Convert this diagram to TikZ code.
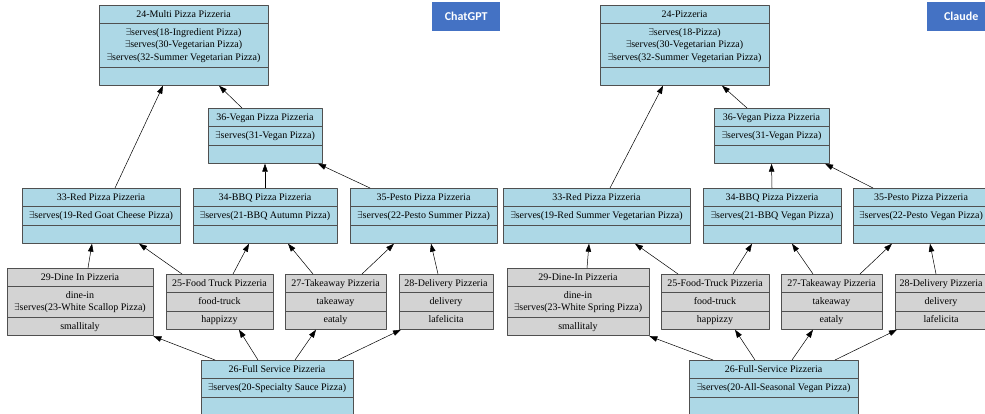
\documentclass[tikz,border=0pt]{standalone}
\usepackage{fontspec}
\setmainfont{Liberation Serif}
\newfontfamily\tagfont{Carlito}
\usetikzlibrary{shapes.multipart,arrows.meta}
\definecolor{boxblue}{HTML}{ADD8E6}
\definecolor{boxgray}{HTML}{D3D3D3}
\definecolor{tagblue}{HTML}{4472C4}
\definecolor{edgegray}{HTML}{505050}
\newcommand{\exserves}{\strut$\exists$serves}
\tikzset{
  klass/.style={rectangle split, rectangle split parts=3, draw=edgegray, line width=0.8pt,
    align=center, inner xsep=3pt, inner ysep=2.5pt, anchor=north,
    font=\fontsize{10}{12.5}\selectfont},
  bluebox/.style={klass, fill=boxblue},
  graybox/.style={klass, fill=boxgray},
  tag/.style={fill=tagblue, text=white, inner sep=0pt, minimum width=68pt, minimum height=29pt,
    anchor=north west, font=\tagfont\bfseries\fontsize{12}{14}\selectfont},
  isa/.style={->, line width=0.5pt}
}
\begin{document}
\begin{tikzpicture}[x=1pt,y=-1pt,>={Triangle[length=8pt,width=5.5pt]},line join=round]
  \clip (0,0) rectangle (985,414);
  % ChatGPT
  \node[tag] (tl) at (432,2) {ChatGPT};
  \node[bluebox, minimum width=169pt] (l24) at (183.5,5) {\strut 24-Multi Pizza Pizzeria
    \nodepart{two} \exserves(18-Ingredient Pizza)\\ \exserves(30-Vegetarian Pizza)\\ \exserves(32-Summer Vegetarian Pizza)
    \nodepart{three} \strut};
  \node[bluebox, minimum width=114pt] (l36) at (265,108) {\strut 36-Vegan Pizza Pizzeria
    \nodepart{two} \exserves(31-Vegan Pizza) \nodepart{three} \strut};
  \node[bluebox, minimum width=158pt] (l33) at (101,188) {\strut 33-Red Pizza Pizzeria
    \nodepart{two} \exserves(19-Red Goat Cheese Pizza) \nodepart{three} \strut};
  \node[bluebox, minimum width=144pt] (l34) at (265,188) {\strut 34-BBQ Pizza Pizzeria
    \nodepart{two} \exserves(21-BBQ Autumn Pizza) \nodepart{three} \strut};
  \node[bluebox, minimum width=147pt] (l35) at (423.5,188) {\strut 35-Pesto Pizza Pizzeria
    \nodepart{two} \exserves(22-Pesto Summer Pizza) \nodepart{three} \strut};
  \node[graybox, minimum width=146pt] (l29) at (80,268) {\strut 29-Dine In Pizzeria
    \nodepart{two} \strut dine-in\\ \exserves(23-White Scallop Pizza) \nodepart{three} \strut smallitaly};
  \node[graybox, minimum width=107pt] (l25) at (219.5,274) {\strut 25-Food Truck Pizzeria
    \nodepart{two} \strut food-truck \nodepart{three} \strut happizzy};
  \node[graybox, minimum width=101pt] (l27) at (335.5,274) {\strut 27-Takeaway Pizzeria
    \nodepart{two} \strut takeaway \nodepart{three} \strut eataly};
  \node[graybox, minimum width=94pt] (l28) at (446,274) {\strut 28-Delivery Pizzeria
    \nodepart{two} \strut delivery \nodepart{three} \strut lafelicita};
  \node[bluebox, minimum width=152pt] (l26) at (277,360) {\strut 26-Full Service Pizzeria
    \nodepart{two} \exserves(20-Specialty Sauce Pizza) \nodepart{three} \strut};
  \draw[isa] ([xshift=14pt]l33.north) -- ([xshift=-20.5pt]l24.south);
  \draw[isa] ([xshift=-23pt]l36.north) -- ([xshift=35.5pt]l24.south);
  \draw[isa] (l34.north) -- (l36.south);
  \draw[isa] ([xshift=-53.5pt]l35.north) -- ([xshift=53pt]l36.south);
  \draw[isa] ([xshift=8pt]l29.north) -- ([xshift=-9pt]l33.south);
  \draw[isa] ([xshift=-37.5pt]l25.north) -- ([xshift=38pt]l33.south);
  \draw[isa] ([xshift=13.5pt]l25.north) -- ([xshift=-16pt]l34.south);
  \draw[isa] ([xshift=-22.5pt]l27.north) -- ([xshift=23pt]l34.south);
  \draw[isa] ([xshift=26.5pt]l27.north) -- ([xshift=-29.5pt]l35.south);
  \draw[isa] ([xshift=-8pt]l28.north) -- ([xshift=7.5pt]l35.south);
  \draw[isa] ([xshift=-62pt]l26.north) -- (l29.south east);
  \draw[isa] ([xshift=-19pt]l26.north) -- ([xshift=19.5pt]l25.south);
  \draw[isa] ([xshift=18pt]l26.north) -- ([xshift=-19.5pt]l27.south);
  \draw[isa] ([xshift=61pt]l26.north) -- ([xshift=-45pt]l28.south);
  % Claude
  \node[tag] (tr) at (927,2) {Claude};
  \node[bluebox, minimum width=169pt] (r24) at (684.5,5) {\strut 24-Pizzeria
    \nodepart{two} \exserves(18-Pizza)\\ \exserves(30-Vegetarian Pizza)\\ \exserves(32-Summer Vegetarian Pizza)
    \nodepart{three} \strut};
  \node[bluebox, minimum width=115pt] (r36) at (771.5,108) {\strut 36-Vegan Pizza Pizzeria
    \nodepart{two} \exserves(31-Vegan Pizza) \nodepart{three} \strut};
  \node[bluebox, minimum width=187pt] (r33) at (596.5,188) {\strut 33-Red Pizza Pizzeria
    \nodepart{two} \exserves(19-Red Summer Vegetarian Pizza) \nodepart{three} \strut};
  \node[bluebox, minimum width=138pt] (r34) at (772,188) {\strut 34-BBQ Pizza Pizzeria
    \nodepart{two} \exserves(21-BBQ Vegan Pizza) \nodepart{three} \strut};
  \node[bluebox, minimum width=136pt] (r35) at (921,188) {\strut 35-Pesto Pizza Pizzeria
    \nodepart{two} \exserves(22-Pesto Vegan Pizza) \nodepart{three} \strut};
  \node[graybox, minimum width=142pt] (r29) at (578,268) {\strut 29-Dine-In Pizzeria
    \nodepart{two} \strut dine-in\\ \exserves(23-White Spring Pizza) \nodepart{three} \strut smallitaly};
  \node[graybox, minimum width=108pt] (r25) at (715,274) {\strut 25-Food-Truck Pizzeria
    \nodepart{two} \strut food-truck \nodepart{three} \strut happizzy};
  \node[graybox, minimum width=101pt] (r27) at (831.5,274) {\strut 27-Takeaway Pizzeria
    \nodepart{two} \strut takeaway \nodepart{three} \strut eataly};
  \node[graybox, minimum width=92pt] (r28) at (941,274) {\strut 28-Delivery Pizzeria
    \nodepart{two} \strut delivery \nodepart{three} \strut lafelicita};
  \node[bluebox, minimum width=169pt] (r26) at (773.5,360) {\strut 26-Full-Service Pizzeria
    \nodepart{two} \exserves(20-All-Seasonal Vegan Pizza) \nodepart{three} \strut};
  \draw[isa] ([xshift=13.5pt]r33.north) -- ([xshift=-21.5pt]r24.south);
  \draw[isa] ([xshift=-24.5pt]r36.north) -- ([xshift=37.5pt]r24.south);
  \draw[isa] (r34.north) -- (r36.south);
  \draw[isa] ([xshift=-48pt]r35.north) -- ([xshift=53.5pt]r36.south);
  \draw[isa] ([xshift=9pt]r29.north) -- ([xshift=-7.5pt]r33.south);
  \draw[isa] ([xshift=-37pt]r25.north) -- ([xshift=38.5pt]r33.south);
  \draw[isa] ([xshift=18pt]r25.north) -- ([xshift=-20pt]r34.south);
  \draw[isa] ([xshift=-18.5pt]r27.north) -- ([xshift=20pt]r34.south);
  \draw[isa] ([xshift=28.5pt]r27.north) -- ([xshift=-29pt]r35.south);
  \draw[isa] ([xshift=-5pt]r28.north) -- ([xshift=9pt]r35.south);
  \draw[isa] ([xshift=-60.5pt]r26.north) -- (r29.south east);
  \draw[isa] ([xshift=-18.5pt]r26.north) -- ([xshift=20pt]r25.south);
  \draw[isa] ([xshift=18.5pt]r26.north) -- ([xshift=-18.5pt]r27.south);
  \draw[isa] ([xshift=61.5pt]r26.north) -- ([xshift=-44pt]r28.south);
\end{tikzpicture}
\end{document}
